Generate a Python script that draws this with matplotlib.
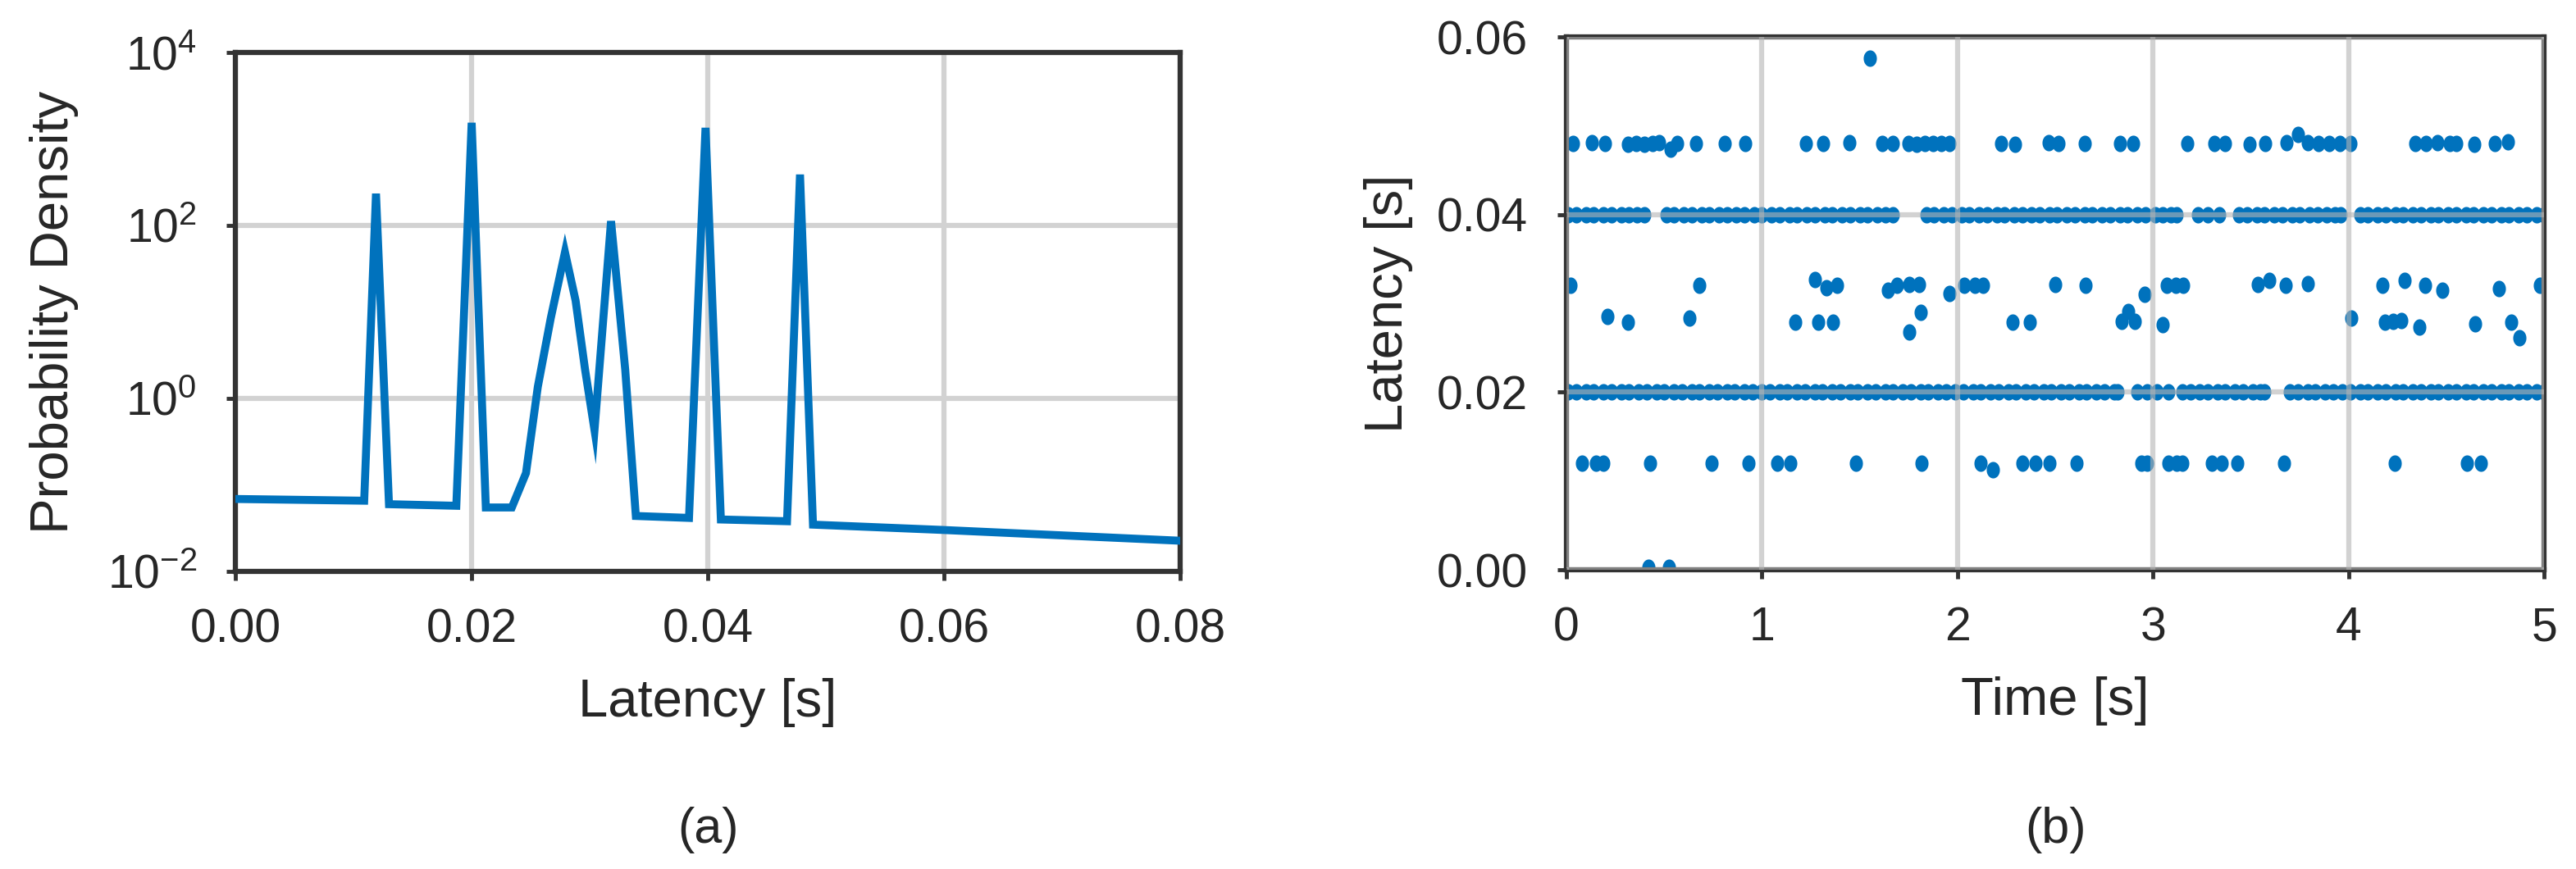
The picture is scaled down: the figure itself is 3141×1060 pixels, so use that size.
import matplotlib
matplotlib.use("Agg")
import matplotlib.pyplot as plt
import numpy as np
from matplotlib.path import Path
from matplotlib.ticker import FormatStrFormatter, NullLocator

plt.rcParams.update({
    "font.family": ["Liberation Sans", "DejaVu Sans"],
    "mathtext.fontset": "custom",
    "mathtext.rm": "Liberation Sans",
    "mathtext.default": "regular",
    "axes.unicode_minus": True,
})

BLUE = "#0072BD"
DARK = "#262626"

# (a) probability density of latency
pdf_x = [0.0, 0.0109, 0.0119, 0.0130, 0.0187, 0.0200, 0.0212, 0.0234, 0.0246,
         0.0256, 0.0267, 0.0279, 0.0288, 0.0296, 0.0304, 0.0318, 0.0330, 0.0339,
         0.0384, 0.0398, 0.0411, 0.0467, 0.0478, 0.0489, 0.0597, 0.0800]
pdf_y = [0.0687, 0.0656, 233.0, 0.0598, 0.0573, 1535.0, 0.0548, 0.0548, 0.137,
         1.36, 8.5, 49.0, 13.5, 2.16, 0.43, 112.0, 2.16, 0.0437,
         0.0415, 1343.0, 0.0398, 0.0380, 387.0, 0.0347, 0.0302, 0.0226]

# (b) latency over time, dense levels at 0.04 s and 0.02 s
t_band40 = [0.01, 0.05, 0.10, 0.14, 0.19, 0.23, 0.28, 0.32, 0.36, 0.40,
            0.51, 0.55, 0.60, 0.64, 0.69, 0.73, 0.78, 0.82, 0.87, 0.91,
            0.96, 1.00, 1.05, 1.09, 1.14, 1.18, 1.23, 1.27, 1.32, 1.36,
            1.41, 1.45, 1.50, 1.54, 1.59, 1.63, 1.67,
            1.84, 1.88, 1.93, 1.97, 2.02, 2.06, 2.11, 2.15, 2.20, 2.24,
            2.29, 2.33, 2.38, 2.42, 2.47, 2.51, 2.56, 2.60, 2.65, 2.69,
            2.74, 2.78, 2.83, 2.87, 2.92, 2.96, 3.01, 3.05, 3.09, 3.12,
            3.23, 3.28, 3.34,
            3.44, 3.48, 3.53, 3.57, 3.62, 3.66, 3.71, 3.75, 3.80, 3.84,
            3.89, 3.93, 3.96,
            4.06, 4.10, 4.15, 4.19, 4.24, 4.28, 4.33, 4.37, 4.42, 4.46,
            4.51, 4.55, 4.60, 4.64, 4.69, 4.73, 4.78, 4.82, 4.87, 4.91,
            4.96, 5.00]
t_band20 = [0.01, 0.05, 0.10, 0.14, 0.19, 0.23, 0.28, 0.32, 0.37, 0.41,
            0.46, 0.50, 0.55, 0.59, 0.64, 0.68, 0.73, 0.77, 0.82, 0.86,
            0.91, 0.95, 1.00, 1.04, 1.09, 1.13, 1.18, 1.22, 1.27, 1.31,
            1.36, 1.40, 1.45, 1.49, 1.54, 1.58, 1.63, 1.67, 1.72, 1.76,
            1.81, 1.85, 1.90, 1.94, 1.99, 2.03, 2.08, 2.12, 2.17, 2.21,
            2.26, 2.30, 2.35, 2.39, 2.44, 2.48, 2.53, 2.57, 2.62, 2.66,
            2.71, 2.75, 2.80, 2.82,
            2.92, 2.97, 3.02, 3.08,
            3.15, 3.19, 3.24, 3.28, 3.33, 3.37, 3.42, 3.46, 3.51, 3.55, 3.57,
            3.70, 3.74, 3.79, 3.83, 3.88, 3.92, 3.97, 4.01, 4.06, 4.10,
            4.15, 4.19, 4.24, 4.28, 4.33, 4.37, 4.42, 4.46, 4.51, 4.55,
            4.60, 4.64, 4.69, 4.73, 4.78, 4.82, 4.87, 4.91, 4.96, 5.00]

# sparse levels: (time, latency)
t_48 = [0.035, 0.13, 0.196, 0.315, 0.357, 0.398, 0.44, 0.475, 0.531, 0.566,
        0.664, 0.81, 0.915, 1.225, 1.314, 1.447, 1.615, 1.67, 1.748, 1.79,
        1.832, 1.874, 1.916, 1.958, 2.223, 2.293, 2.465, 2.517, 2.65, 2.83,
        2.90, 3.174, 3.314, 3.37, 3.495, 3.572, 3.684, 3.74, 3.79, 3.845,
        3.90, 3.957, 4.01, 4.341, 4.397, 4.453, 4.516, 4.551, 4.642, 4.747,
        4.817]
lat_48 = [0.0480, 0.0481, 0.0480, 0.0479, 0.0480, 0.0479, 0.0480, 0.0481, 0.0474, 0.0480,
          0.0480, 0.0480, 0.0480, 0.0480, 0.0480, 0.0481, 0.0480, 0.0480, 0.0480, 0.0479,
          0.0480, 0.0480, 0.0480, 0.0480, 0.0480, 0.0479, 0.0481, 0.0480, 0.0480, 0.0480,
          0.0480, 0.0480, 0.0480, 0.0480, 0.0479, 0.0480, 0.0481, 0.0490, 0.0481, 0.0480,
          0.0480, 0.0480, 0.0480, 0.0480, 0.0480, 0.0481, 0.0480, 0.0480, 0.0479, 0.0480,
          0.0482]
t_32 = [0.02, 0.678, 1.272, 1.328, 1.384, 1.643, 1.69, 1.755, 1.804, 1.958,
        2.034, 2.09, 2.13, 2.50, 2.657, 2.957, 3.069, 3.118, 3.153, 3.537,
        3.594, 3.678, 3.79, 4.174, 4.286, 4.39, 4.48, 4.768, 4.978]
lat_32 = [0.0320, 0.0320, 0.0327, 0.0318, 0.0320, 0.0315, 0.0320, 0.0321, 0.0321, 0.0311,
          0.0320, 0.0320, 0.0320, 0.0321, 0.0320, 0.0310, 0.0320, 0.0320, 0.0320, 0.0321,
          0.0326, 0.0320, 0.0322, 0.0320, 0.0326, 0.0320, 0.0315, 0.0317, 0.0320]
t_28 = [0.21, 0.315, 0.63, 1.17, 1.286, 1.363, 1.755, 1.811, 2.28, 2.37,
        2.838, 2.873, 2.908, 3.048, 4.013, 4.188, 4.23, 4.272, 4.362, 4.649,
        4.831, 4.873]
lat_28 = [0.0285, 0.0279, 0.0283, 0.0279, 0.0279, 0.0279, 0.0268, 0.0290, 0.0279, 0.0279,
          0.0280, 0.0291, 0.0280, 0.0276, 0.0283, 0.0279, 0.0280, 0.0281, 0.0273, 0.0277,
          0.0279, 0.0261]
t_12 = [0.08, 0.15, 0.19, 0.427, 0.741, 0.93, 1.077, 1.146, 1.482, 1.817,
        2.12, 2.18, 2.33, 2.40, 2.47, 2.608, 2.94, 2.97, 3.08, 3.12,
        3.15, 3.30, 3.35, 3.43, 3.67, 4.237, 4.607, 4.677]
lat_12 = [0.0120, 0.0120, 0.0120, 0.0120, 0.0120, 0.0120, 0.0120, 0.0120, 0.0120, 0.0120,
          0.0120, 0.0113, 0.0120, 0.0120, 0.0120, 0.0120, 0.0120, 0.0120, 0.0120, 0.0120,
          0.0120, 0.0120, 0.0120, 0.0120, 0.0120, 0.0120, 0.0120, 0.0120]
t_00 = [0.42, 0.524]
lat_00 = [0.0003, 0.0003]
t_58 = [1.552]
lat_58 = [0.0576]

fig = plt.figure(figsize=(31.41, 10.60), dpi=100)
ax1 = fig.add_axes([0.0914, 0.3425, 0.3668, 0.5972])
ax2 = fig.add_axes([0.6081, 0.3443, 0.3795, 0.6132])

for ax in (ax1, ax2):
    for s in ax.spines.values():
        s.set_linewidth(4.5)
        s.set_color("#333333")
    ax.tick_params(direction="out", length=8, width=3.5, color="#333333",
                   labelsize=41, labelcolor=DARK)
    ax.tick_params(axis="y", pad=26)
    ax.tick_params(axis="x", pad=24)

# left panel
ax1.plot(pdf_x, pdf_y, color=BLUE, lw=7, solid_joinstyle="miter", zorder=3)
ax1.set_yscale("log")
ax1.set_xlim(0, 0.08)
ax1.set_ylim(1e-2, 1e4)
ax1.set_xticks([0, 0.02, 0.04, 0.06, 0.08])
ax1.xaxis.set_major_formatter(FormatStrFormatter("%.2f"))
ax1.set_yticks([1e-2, 1e0, 1e2, 1e4])
ax1.yaxis.set_minor_locator(NullLocator())
ax1.grid(True, color="#d2d2d2", lw=4.5)
ax1.set_axisbelow(True)
ax1.set_xlabel("Latency [s]", fontsize=47, color=DARK)
ax1.set_ylabel("Probability Density", fontsize=47, color=DARK)
ax1.xaxis.set_label_coords(0.5, -0.205)
ax1.yaxis.set_label_coords(-0.166, 0.5)

# right panel
th = np.linspace(0, 2 * np.pi, 40)
dot = Path(np.column_stack([0.8 * np.cos(th), np.sin(th)]))
kw = dict(ls="none", marker=dot, ms=14.5, mfc=BLUE, mec="none", zorder=2)
ax2.plot(t_band40, [0.040] * len(t_band40), **kw)
ax2.plot(t_band20, [0.020] * len(t_band20), **kw)
for tt, ll in [(t_48, lat_48), (t_32, lat_32), (t_28, lat_28),
               (t_12, lat_12), (t_00, lat_00), (t_58, lat_58)]:
    ax2.plot(tt, ll, **kw)
ax2.set_xlim(0, 5)
ax2.set_ylim(0, 0.06)
ax2.set_xticks([0, 1, 2, 3, 4, 5])
ax2.set_yticks([0, 0.02, 0.04, 0.06])
ax2.yaxis.set_major_formatter(FormatStrFormatter("%.2f"))
ax2.grid(True, color="#b4b4b4", alpha=0.6, lw=4.5, zorder=4)
ax2.set_axisbelow(False)
ax2.set_xlabel("Time [s]", fontsize=47, color=DARK)
ax2.set_ylabel("Latency [s]", fontsize=47, color=DARK)
ax2.xaxis.set_label_coords(0.5, -0.2)
ax2.yaxis.set_label_coords(-0.157, 0.5)

fig.text(0.2748, 0.045, "(a)", fontsize=44, color=DARK, ha="center", va="center")
fig.text(0.7979, 0.045, "(b)", fontsize=44, color=DARK, ha="center", va="center")

fig.savefig("out.png", dpi=100)
